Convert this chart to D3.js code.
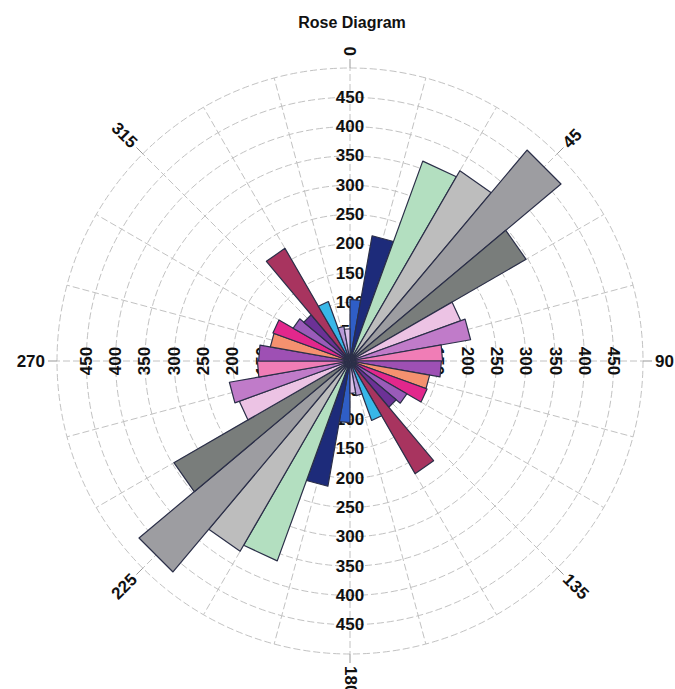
<!DOCTYPE html>
<html>
<head>
<meta charset="utf-8">
<script src="https://cdn.jsdelivr.net/npm/d3@7"></script>
<style>
  html, body { margin: 0; padding: 0; background: #ffffff; }
  svg { display: block; }
  text { font-family: "Liberation Sans", Arial, sans-serif; fill: #111; }
</style>
</head>
<body>
<svg id="chart" width="675" height="689"></svg>
<script>
// Direction bins (degrees, clockwise from north); each bin is mirrored at +180
const binStarts = [0, 10, 20, 30, 40, 50, 60, 70, 80, 90, 100, 110, 120, 130, 140, 150, 160, 170];
const binWidth = 10;
const counts = [105, 217, 363, 375, 470, 347, 201, 209, 158, 156, 138, 140, 112, 103, 222, 108, 60, 55];
const binColors = [
  "#2f5ec6", "#1d2b7a", "#b3dfc0", "#bdbdbd", "#9d9da1", "#797d7b",
  "#ecc3e4", "#c07bc9", "#f07db6", "#9e50b4", "#f5916f", "#e2278c",
  "#9a5bb9", "#6c3196", "#a8345f", "#38b7e8", "#b89ad8", "#dcc2ea"
];
const radialTicks = [50, 100, 150, 200, 250, 300, 350, 400, 450];
const gridRings = [50, 100, 150, 200, 250, 300, 350, 400, 450, 500];
const angleLabels = [0, 45, 90, 135, 180, 225, 270, 315];
const spokeAngles = d3.range(0, 360, 15);
const titleText = "Rose Diagram";

const svg = d3.select("#chart");
const cx = 350, cy = 361;
const rMax = 293;
const r = d3.scaleLinear().domain([0, 500]).range([0, rMax]);
const rad = d => d * Math.PI / 180;

const g = svg.append("g").attr("transform", `translate(${cx},${cy})`);

// Grid: dashed rings and spokes
const gridStyle = sel => sel.attr("fill", "none").attr("stroke", "#c2c2c2")
  .attr("stroke-width", 1).attr("stroke-dasharray", "7,3");

g.append("g").selectAll("circle").data(gridRings).join("circle")
  .attr("r", d => r(d)).call(gridStyle);

g.append("g").selectAll("line").data(spokeAngles).join("line")
  .attr("x1", 0).attr("y1", 0)
  .attr("x2", d => r(500) * Math.sin(rad(d)))
  .attr("y2", d => -r(500) * Math.cos(rad(d)))
  .call(gridStyle);

// Radial value labels along the four main axes
const tickG = g.append("g").attr("font-size", 17).attr("font-weight", "bold");
const axesDirs = [
  { dx: 0, dy: -1, rot: 0 },
  { dx: 0, dy: 1, rot: 0 },
  { dx: -1, dy: 0, rot: -90 },
  { dx: 1, dy: 0, rot: 90 }
];
axesDirs.forEach(a => {
  tickG.append("g").selectAll("text").data(radialTicks).join("text")
    .attr("transform", d => `translate(${a.dx * r(d)},${a.dy * r(d)}) rotate(${a.rot})`)
    .attr("text-anchor", "middle")
    .attr("dominant-baseline", "central")
    .text(d => d);
});

// Bars: triangular wedges for each bin and its opposite direction
const wedge = d3.lineRadial().curve(d3.curveLinearClosed);
const bars = [];
binStarts.forEach((b, i) => {
  [0, 180].forEach(off => bars.push({ start: b + off, value: counts[i], color: binColors[i] }));
});
g.append("g").selectAll("path").data(bars).join("path")
  .attr("d", d => wedge([
    [rad(d.start), 0],
    [rad(d.start), r(d.value)],
    [rad(d.start + binWidth), r(d.value)]
  ]))
  .attr("fill", d => d.color)
  .attr("stroke", "#2b2f48")
  .attr("stroke-width", 1.2)
  .attr("stroke-linejoin", "round");

// Compass labels with short ticks outside the outer ring
const angG = g.append("g");
angG.selectAll("line").data(angleLabels).join("line")
  .attr("x1", d => r(500) * Math.sin(rad(d)))
  .attr("y1", d => -r(500) * Math.cos(rad(d)))
  .attr("x2", d => (r(500) + 9) * Math.sin(rad(d)))
  .attr("y2", d => -(r(500) + 9) * Math.cos(rad(d)))
  .attr("stroke", "#999").attr("stroke-width", 1);

angG.selectAll("text").data(angleLabels).join("text")
  .attr("font-size", 17).attr("font-weight", "bold")
  .attr("dominant-baseline", "central")
  .attr("transform", d => {
    const rr = r(500) + 12;
    const x = rr * Math.sin(rad(d)), y = -rr * Math.cos(rad(d));
    let rot = d - 90;
    if (rot > 90) rot -= 180;
    return `translate(${x},${y}) rotate(${rot})`;
  })
  .attr("text-anchor", d => (d - 90 > 90 ? "end" : "start"))
  .text(d => d);

// Title
svg.append("text")
  .attr("x", 352).attr("y", 28)
  .attr("text-anchor", "middle")
  .attr("font-size", 16).attr("font-weight", "bold")
  .text(titleText);
</script>
</body>
</html>
